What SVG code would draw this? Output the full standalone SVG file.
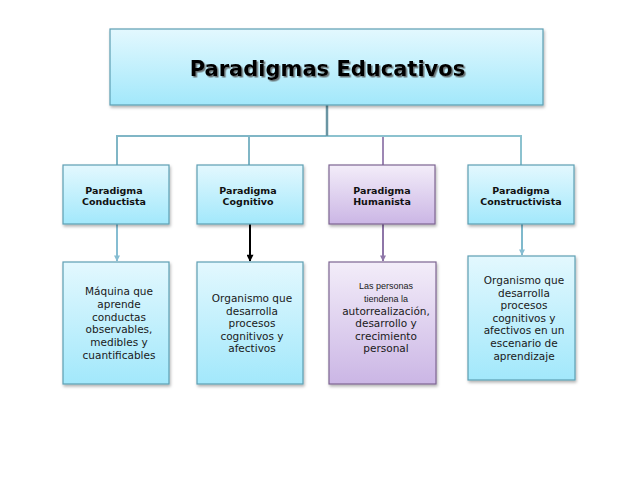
<svg xmlns="http://www.w3.org/2000/svg" width="638" height="479" viewBox="0 0 638 479">
<defs>
  <linearGradient id="gCyan" x1="0" y1="0" x2="0" y2="1">
    <stop offset="0" stop-color="#e3f8fe"/>
    <stop offset="1" stop-color="#a2e8fb"/>
  </linearGradient>
  <linearGradient id="gPurple" x1="0" y1="0" x2="0" y2="1">
    <stop offset="0" stop-color="#f3edf9"/>
    <stop offset="1" stop-color="#cbb6e5"/>
  </linearGradient>
  <filter id="shadow" x="-10%" y="-10%" width="125%" height="130%">
    <feDropShadow dx="1" dy="2" stdDeviation="1.5" flood-color="#000" flood-opacity="0.3"/>
  </filter>
  <filter id="tshadow" x="-5%" y="-20%" width="110%" height="150%">
    <feDropShadow dx="1.5" dy="1.5" stdDeviation="0.6" flood-color="#555" flood-opacity="0.8"/>
  </filter>
  <marker id="aBlue" viewBox="0 0 10 10" refX="9" refY="5" markerUnits="userSpaceOnUse" markerWidth="7" markerHeight="6" orient="auto">
    <path d="M0,0 L10,5 L0,10 z" fill="#86bdd2"/>
  </marker>
  <marker id="aBlack" viewBox="0 0 10 10" refX="9" refY="5" markerUnits="userSpaceOnUse" markerWidth="8" markerHeight="7" orient="auto">
    <path d="M0,0 L10,5 L0,10 z" fill="#000"/>
  </marker>
  <marker id="aPurple" viewBox="0 0 10 10" refX="9" refY="5" markerUnits="userSpaceOnUse" markerWidth="7" markerHeight="6" orient="auto">
    <path d="M0,0 L10,5 L0,10 z" fill="#8e76a8"/>
  </marker>
</defs>
<style>
  .cyan { fill: url(#gCyan); stroke: #5d9fb3; stroke-width: 1.2; filter: url(#shadow); }
  .purple { fill: url(#gPurple); stroke: #7d6592; stroke-width: 1.2; filter: url(#shadow); }
  .title { font-family: "DejaVu Sans", Verdana, sans-serif; font-weight: bold; font-size: 21px; fill: #000; text-anchor: middle; filter: url(#tshadow); }
  .head { font-family: "DejaVu Sans", Verdana, sans-serif; font-weight: bold; font-size: 9.5px; fill: #111; text-anchor: middle; }
  .body { font-family: "DejaVu Sans", Verdana, sans-serif; font-size: 10.5px; fill: #1a1a1a; text-anchor: middle; }
  .small { font-family: "Liberation Sans", Arial, sans-serif; font-size: 9px; fill: #1a1a1a; text-anchor: middle; }
  .link { fill: none; stroke-width: 2; }
</style>

<g id="connectors">
  <path class="link" d="M327,105 V136 H117 V165" stroke="#80b6c6"/>
  <path class="link" d="M327,105 V136 H249 V165" stroke="#80b6c6"/>
  <path class="link" d="M327,105 V136 H383 V165" stroke="#9d87b4"/>
  <path class="link" d="M327,105 V136 H521 V165" stroke="#8cc2cf"/>
  <path d="M327,105 V136" stroke="#6a95a3" stroke-width="2.5" fill="none"/>
  <path class="link" d="M117,224 V261" stroke="#86bdd2" marker-end="url(#aBlue)"/>
  <path class="link" d="M250,224 V261" stroke="#000" marker-end="url(#aBlack)"/>
  <path class="link" d="M383,224 V261" stroke="#8e76a8" marker-end="url(#aPurple)"/>
  <path class="link" d="M522,220 V255" stroke="#7fb9cc" marker-end="url(#aBlue)"/>
</g>

<g id="titulo">
  <rect class="cyan" x="110" y="29" width="433" height="76"/>
  <text class="title" x="327.5" y="76">Paradigmas Educativos</text>
</g>

<g id="conductista">
  <rect class="cyan" x="63" y="165" width="106" height="59"/>
  <text class="head" x="114" y="194">Paradigma</text>
  <text class="head" x="114" y="205">Conductista</text>
</g>
<g id="cognitivo">
  <rect class="cyan" x="197" y="165" width="106" height="59"/>
  <text class="head" x="248" y="194">Paradigma</text>
  <text class="head" x="248" y="205">Cognitivo</text>
</g>
<g id="humanista">
  <rect class="purple" x="329" y="165" width="106" height="59"/>
  <text class="head" x="382" y="194">Paradigma</text>
  <text class="head" x="382" y="205">Humanista</text>
</g>
<g id="constructivista">
  <rect class="cyan" x="468" y="165" width="106" height="59"/>
  <text class="head" x="521" y="194">Paradigma</text>
  <text class="head" x="521" y="205">Constructivista</text>
</g>

<g id="desc-conductista">
  <rect class="cyan" x="63" y="262" width="106" height="122"/>
  <text class="body" x="119" y="295">Máquina que</text>
  <text class="body" x="119" y="308">aprende</text>
  <text class="body" x="119" y="321">conductas</text>
  <text class="body" x="119" y="333">observables,</text>
  <text class="body" x="119" y="346">medibles y</text>
  <text class="body" x="119" y="359">cuantificables</text>
</g>
<g id="desc-cognitivo">
  <rect class="cyan" x="197" y="262" width="106" height="122"/>
  <text class="body" x="252" y="302">Organismo que</text>
  <text class="body" x="252" y="314.5">desarrolla</text>
  <text class="body" x="252" y="327">procesos</text>
  <text class="body" x="252" y="339.5">cognitivos y</text>
  <text class="body" x="252" y="352">afectivos</text>
</g>
<g id="desc-humanista">
  <rect class="purple" x="329" y="262" width="107" height="122"/>
  <text class="small" x="386" y="289">Las personas</text>
  <text class="small" x="386" y="302">tiendena la</text>
  <text class="body" x="386" y="315">autorrealización,</text>
  <text class="body" x="386" y="327">desarrollo y</text>
  <text class="body" x="386" y="340">crecimiento</text>
  <text class="body" x="386" y="352">personal</text>
</g>
<g id="desc-constructivista">
  <rect class="cyan" x="468" y="256" width="107" height="124"/>
  <text class="body" x="524" y="284">Organismo que</text>
  <text class="body" x="524" y="296.5">desarrolla</text>
  <text class="body" x="524" y="309">procesos</text>
  <text class="body" x="524" y="321.5">cognitivos y</text>
  <text class="body" x="524" y="334">afectivos en un</text>
  <text class="body" x="524" y="347">escenario de</text>
  <text class="body" x="524" y="360">aprendizaje</text>
</g>
</svg>
